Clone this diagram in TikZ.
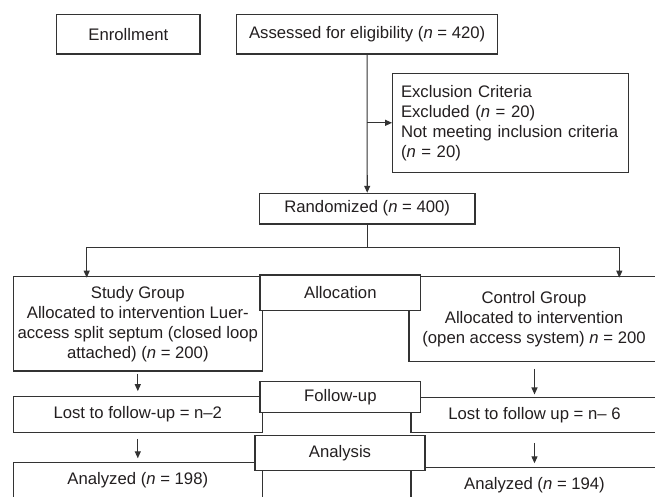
\documentclass[tikz,border=0pt]{standalone}
\usepackage{fontspec}
\setmainfont{Liberation Sans}
\usetikzlibrary{arrows.meta}
\definecolor{ln}{HTML}{333333}
\definecolor{tx}{HTML}{231F20}
\tikzset{
  box/.style={draw=ln, line width=1.1pt, fill=white, text=tx, inner sep=0pt, align=center,
    font=\fontsize{16.7}{20}\selectfont},
  openbox/.style={box, text height=21.7pt, text depth=20pt, anchor=north},
  arr/.style={draw=ln, line width=1.1pt, -{Triangle[length=7pt,width=6pt]}},
  conn/.style={draw=ln, line width=1.1pt}
}
\begin{document}
\begin{tikzpicture}[x=1pt,y=-1pt]
\useasboundingbox (0,0) rectangle (655,496);
\clip (0,0) rectangle (655,496);
% top
\node[box, minimum width=143.3pt, minimum height=39.7pt] (enroll) at (128.35,34.15) {Enrollment};
\node[box, minimum width=260.7pt, minimum height=39.7pt] (assess) at (367.15,34.15) {Assessed for eligibility (\textit{n} = 420)};
\node[box, minimum width=236pt, minimum height=99pt, text width=219.2pt, align=left] (excl) at (510.6,122.8)
  {Exclusion Criteria\\Excluded (\textit{n} = 20)\\Not meeting inclusion criteria\\(\textit{n} = 20)};
\node[box, minimum width=215.6pt, minimum height=30.7pt] (rand) at (367.2,208.65) {Randomized (\textit{n} = 400)};
% groups
\node[box, minimum width=249pt, minimum height=94.3pt] (study) at (137.8,323.85)
  {Study Group\\Allocated to intervention Luer-\\access split septum (closed loop\\attached) (\textit{n} = 200)};
\node[box, minimum width=250pt, minimum height=85pt] (control) at (534,319.2)
  {Control Group\\Allocated to intervention\\(open access system) \textit{n} = 200};
\node[box, minimum width=249pt, minimum height=35.6pt] (lost1) at (137.8,414.5) {Lost to follow-up = n–2};
\node[box, minimum width=247pt, minimum height=35.4pt] (lost2) at (534.5,415) {Lost to follow up = n– 6};
\node[openbox, minimum width=249pt] (ana1) at (137.8,462.3) {Analyzed (\textit{n} = 198)};
\node[openbox, minimum width=247pt] (ana2) at (534.5,467.3) {Analyzed (\textit{n} = 194)};
% middle labels
\node[box, minimum width=160.7pt, minimum height=35.7pt] (alloc) at (340.35,292.85) {Allocation};
\node[box, minimum width=160.7pt, minimum height=31pt] (follow) at (340.35,397.2) {Follow-up};
\node[box, minimum width=170pt, minimum height=35pt] (analysis) at (340,453.2) {Analysis};
% connectors
\coordinate (split) at (367.2,247.7);
\coordinate (L) at (86.7,247.7);
\coordinate (R) at (619.3,247.7);
\draw[arr] (assess.south) -- (rand.north);
\draw[arr] (assess.south |- excl.west) -- (excl.west);
\draw[conn] (rand.south) -- (split);
\draw[arr] (split) -- (L) -- ([yshift=-1.5pt]L |- study.north);
\draw[arr] (split) -- (R) -- ([yshift=-1.5pt]R |- control.north);
\draw[arr, shorten <=2.3pt, shorten >=5pt] (study.south) -- (lost1.north);
\draw[arr, shorten <=6pt, shorten >=4pt] (lost1.south) -- (ana1.north);
\draw[arr, shorten <=6.6pt, shorten >=2.3pt] (lost2.north |- control.south) -- (lost2.north);
\draw[arr, shorten <=9.6pt, shorten >=4pt] (lost2.south) -- (ana2.north);
\end{tikzpicture}
\end{document}
